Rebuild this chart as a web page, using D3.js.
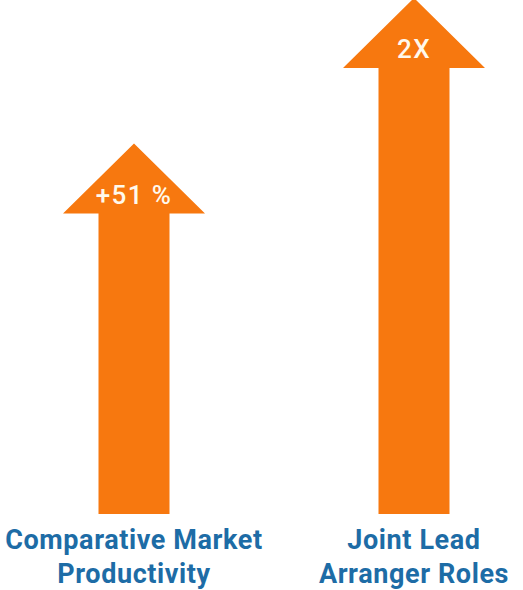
<!DOCTYPE html>
<html>
<head>
<meta charset="utf-8">
<script src="https://cdn.jsdelivr.net/npm/d3@7"></script>
<style>
  html, body { margin: 0; padding: 0; background: #ffffff; }
  svg { display: block; }
</style>
</head>
<body>
<svg id="chart" width="523" height="590"></svg>
<script>
// Growth metrics shown as upward arrows
const categories = ["Comparative Market Productivity", "Joint Lead Arranger Roles"];
const categoryLines = [["Comparative Market", "Productivity"], ["Joint Lead", "Arranger Roles"]];
const values = [1.51, 2.0];           // multiple of baseline
const valueLabels = ["+51 %", "2X"];

const svg = d3.select("#chart");

const orange = "#F7780F";
const blue = "#1D6CA6";

const x = d3.scalePoint().domain(categories).range([134, 414]);
const y = d3.scaleLinear().domain([0, 2]).range([592, -2]);

const shaftBottom = 514;
const shaftHalf = 35.5;
const headHalf = 71;
const headH = 70;

function arrowPath(cx, tipY) {
  const p = d3.path();
  p.moveTo(cx, tipY);
  p.lineTo(cx + headHalf, tipY + headH);
  p.lineTo(cx + shaftHalf, tipY + headH);
  p.lineTo(cx + shaftHalf, shaftBottom);
  p.lineTo(cx - shaftHalf, shaftBottom);
  p.lineTo(cx - shaftHalf, tipY + headH);
  p.lineTo(cx - headHalf, tipY + headH);
  p.closePath();
  return p.toString();
}

const g = svg.selectAll("g.arrow")
  .data(categories.map((c, i) => ({ c, v: values[i], label: valueLabels[i], lines: categoryLines[i] })))
  .join("g")
  .attr("class", "arrow");

g.append("path")
  .attr("d", d => arrowPath(x(d.c), y(d.v)))
  .attr("fill", orange);

g.append("text")
  .attr("x", d => x(d.c))
  .attr("y", d => y(d.v) + 60)
  .attr("text-anchor", "middle")
  .attr("fill", "#FFF9EC")
  .attr("font-family", "Roboto, 'DejaVu Sans', sans-serif")
  .attr("font-weight", 500)
  .attr("font-size", 26)
  .attr("letter-spacing", 1.4)
  .text(d => d.label);

g.append("text")
  .attr("x", d => x(d.c))
  .attr("text-anchor", "middle")
  .attr("fill", blue)
  .attr("font-family", "Roboto, 'DejaVu Sans', sans-serif")
  .attr("font-weight", 700)
  .attr("font-size", 27)
  .attr("letter-spacing", 0.6)
  .selectAll("tspan")
  .data(d => d.lines)
  .join("tspan")
  .attr("x", function() { return x(d3.select(this.parentNode).datum().c); })
  .attr("y", (d, i) => 549 + i * 34)
  .text(d => d);
</script>
</body>
</html>
